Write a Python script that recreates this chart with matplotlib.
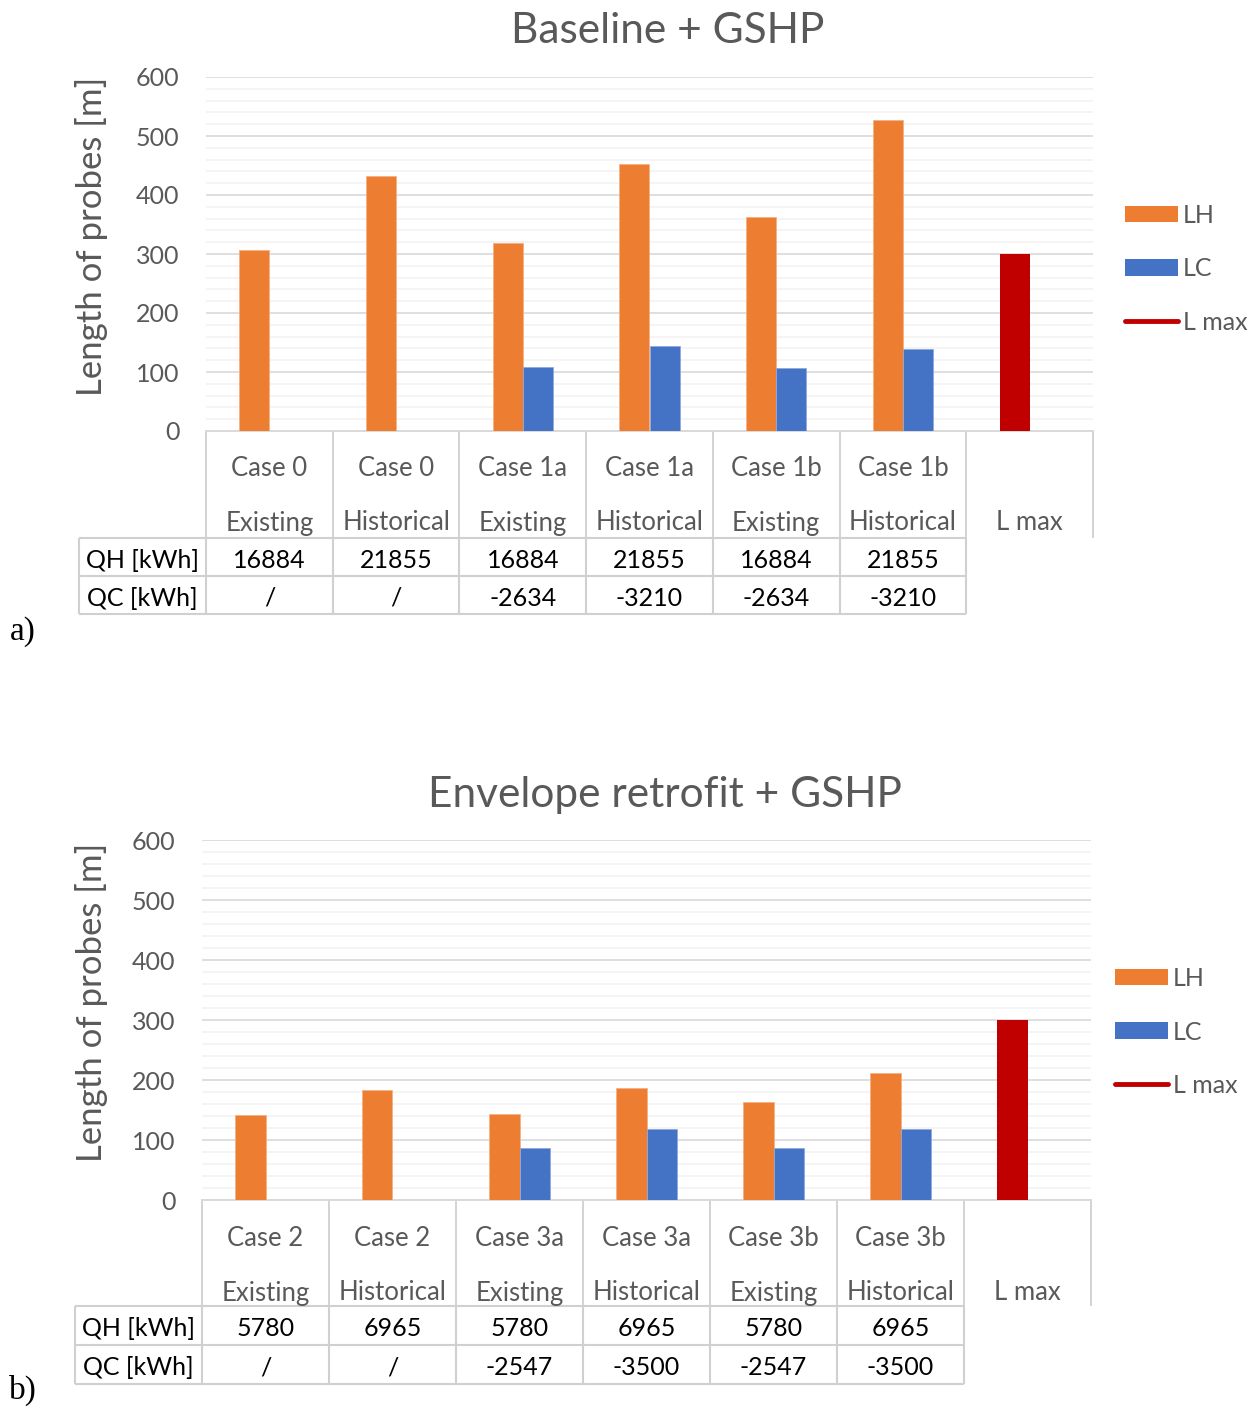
import matplotlib
matplotlib.use("Agg")
import matplotlib.pyplot as plt
from matplotlib.lines import Line2D
from matplotlib.patches import Patch
from matplotlib.transforms import blended_transform_factory

# ---------------- data ----------------
case_a = ["Case 0", "Case 0", "Case 1a", "Case 1a", "Case 1b", "Case 1b"]
case_b = ["Case 2", "Case 2", "Case 3a", "Case 3a", "Case 3b", "Case 3b"]
climate = ["Existing", "Historical", "Existing", "Historical", "Existing", "Historical"]
lmax_label = "L max"

lh_a = [306, 433, 319, 452, 362, 527]
lc_a = [None, None, 108, 144, 106, 139]
lh_b = [142, 184, 144, 186, 164, 211]
lc_b = [None, None, 87, 118, 86, 118]
l_max = 300

qh_a = ["16884", "21855", "16884", "21855", "16884", "21855"]
qc_a = ["/", "/", "-2634", "-3210", "-2634", "-3210"]
qh_b = ["5780", "6965", "5780", "6965", "5780", "6965"]
qc_b = ["/", "/", "-2547", "-3500", "-2547", "-3500"]
row_labels = ["QH [kWh]", "QC [kWh]"]

titles = ["Baseline + GSHP", "Envelope retrofit + GSHP"]
panel_tags = ["a)", "b)"]
ylabel = "Length of probes [m]"
yticks = [0, 100, 200, 300, 400, 500, 600]

# ---------------- style ----------------
ORANGE = "#ED7D31"
BLUE = "#4472C4"
RED = "#C00000"
GREY_TXT = "#595959"
MAJOR = "#D9D9D9"
MINOR = "#F2F2F2"
BORDER = "#D0D0D0"
FONT = "Lato"

W, H = 1259, 1408
fig = plt.figure(figsize=(W / 100, H / 100), dpi=100)
fig.patch.set_facecolor("white")

# overlay in pixel coordinates (y downward) for table, titles and tags
ov = fig.add_axes([0, 0, 1, 1], zorder=0)
ov.set_xlim(0, W)
ov.set_ylim(H, 0)
ov.axis("off")


def rect(left, top, right, bottom):
    return [left / W, 1 - bottom / H, (right - left) / W, (bottom - top) / H]


panels = [
    dict(box=(206, 77, 1093, 431), lh=lh_a, lc=lc_a, case=case_a, qh=qh_a, qc=qc_a,
         title_xy=(668, 31), l1=469, l2=523, rows=(538, 576, 614), legend_top=204,
         leg_x=1125, tag_xy=(23, 632)),
    dict(box=(202, 840, 1091, 1200), lh=lh_b, lc=lc_b, case=case_b, qh=qh_b, qc=qc_b,
         title_xy=(665, 795), l1=1239, l2=1293, rows=(1306, 1345, 1384), legend_top=967,
         leg_x=1115, tag_xy=(23, 1390)),
]

bw = 0.237
for k, p in enumerate(panels):
    left, top, right, bottom = p["box"]
    ax = fig.add_axes(rect(left, top, right, bottom), zorder=2)
    ax.set_facecolor("none")
    n = len(p["lh"])
    xs = [i + 0.5 for i in range(n)]
    ax.bar([x - bw for x in xs], p["lh"], width=bw, align="edge", color=ORANGE,
           edgecolor="#F4B183", linewidth=0.6, zorder=3)
    lc_x = [x for x, v in zip(xs, p["lc"]) if v is not None]
    lc_v = [v for v in p["lc"] if v is not None]
    ax.bar(lc_x, lc_v, width=bw, align="edge", color=BLUE,
           edgecolor="#8FAADC", linewidth=0.6, zorder=3)
    ax.bar([n + 0.5 - bw], [l_max], width=bw, align="edge", color=RED,
           linewidth=0, zorder=3)

    ax.set_xlim(0, n + 1)
    ax.set_ylim(0, 600)
    ax.set_yticks(yticks)
    ax.set_yticks(range(20, 600, 20), minor=True)
    ax.set_yticklabels([str(t) for t in yticks], fontsize=18, color=GREY_TXT,
                       family=FONT)
    ax.tick_params(axis="y", which="both", length=0, pad=19)
    ax.set_xticks([])
    ax.grid(axis="y", which="major", color=MAJOR, linewidth=1.2, zorder=0)
    ax.grid(axis="y", which="minor", color=MINOR, linewidth=1.2, zorder=0)
    ax.set_axisbelow(True)
    for s in ["top", "right", "left"]:
        ax.spines[s].set_visible(False)
    ax.spines["bottom"].set_color(MAJOR)
    ax.spines["bottom"].set_linewidth(1.4)
    ax.set_ylabel(ylabel, fontsize=25, color=GREY_TXT, family=FONT)
    ax.yaxis.set_label_coords((108 - left) / (right - left), 0.55)

    # title and panel tag
    ov.text(*p["title_xy"], titles[k], ha="center", va="center", fontsize=30.5,
            color=GREY_TXT, family=FONT)
    ov.text(*p["tag_xy"], panel_tags[k], ha="center", va="center", fontsize=24,
            color="black", family="Liberation Serif")

    # category label area below the axis
    tr = blended_transform_factory(ax.transData, ov.transData)
    r0, r1, r2 = p["rows"]
    for i in range(n + 2):
        ov.plot([i, i], [bottom, r0], color=BORDER, lw=1.3, transform=tr,
                clip_on=False, solid_capstyle="butt")
    for i, x in enumerate(xs):
        ov.text(x, p["l1"], p["case"][i], transform=tr, ha="center", va="center",
                fontsize=18.5, color=GREY_TXT, family=FONT)
        ov.text(x, p["l2"], climate[i], transform=tr, ha="center", va="center",
                fontsize=18.5, color=GREY_TXT, family=FONT)
    ov.text(n + 0.5, p["l2"], lmax_label, transform=tr, ha="center", va="center",
            fontsize=18.5, color=GREY_TXT, family=FONT)

    # data table rows
    for yy in (r0, r1, r2):
        ov.plot([-1, n], [yy, yy], color=BORDER, lw=1.5, transform=tr,
                clip_on=False, solid_capstyle="butt")
    for i in range(-1, n + 1):
        ov.plot([i, i], [r0, r2], color=BORDER, lw=1.5, transform=tr,
                clip_on=False, solid_capstyle="butt")
    for j, (lab, vals) in enumerate(zip(row_labels, [p["qh"], p["qc"]])):
        yc = ((r0, r1), (r1, r2))[j]
        ym = (yc[0] + yc[1]) / 2 + 3
        ov.text(-0.5, ym, lab, transform=tr, ha="center", va="center",
                fontsize=18, color="black", family=FONT)
        for i, v in enumerate(vals):
            ov.text(xs[i], ym, v, transform=tr, ha="center", va="center",
                    fontsize=18, color="black", family=FONT)

    # legend
    handles = [Patch(facecolor=ORANGE, edgecolor="none"),
               Patch(facecolor=BLUE, edgecolor="none"),
               Line2D([0], [0], color=RED, lw=3.5, solid_capstyle="round")]
    ax.legend(handles, ["LH", "LC", "L max"], loc="upper left",
              bbox_to_anchor=(p["leg_x"] / W, 1 - p["legend_top"] / H),
              bbox_transform=fig.transFigure, frameon=False,
              prop=dict(family=FONT, size=18), labelcolor=GREY_TXT,
              handlelength=2.1, handleheight=0.64, handletextpad=0.22,
              labelspacing=1.22, borderpad=0, borderaxespad=0)

fig.savefig("out.png", dpi=100, facecolor="white")
